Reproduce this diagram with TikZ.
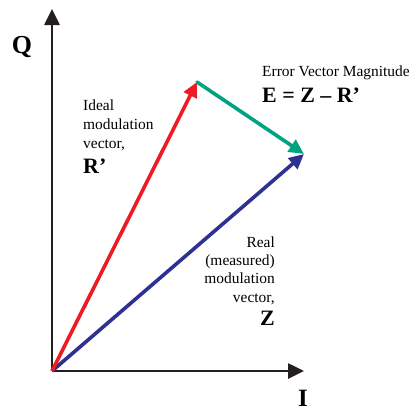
\documentclass[tikz,border=0pt]{standalone}
\usepackage{fontspec}
\setmainfont{Liberation Serif}
\usepackage{xcolor}
\usetikzlibrary{arrows.meta, positioning}

\definecolor{idealred}{RGB}{237,28,36}
\definecolor{errgreen}{RGB}{0,163,128}
\definecolor{realblue}{RGB}{46,49,146}
\definecolor{axisblack}{RGB}{35,31,32}

\tikzset{
  axis/.style={draw=axisblack, line width=2.6bp, -{Triangle[length=16bp, width=15bp]}},
  vec/.style={line width=3.6bp, -{Triangle[length=15bp, width=14bp]}},
  lbl/.style={inner sep=0pt, font=\fontsize{15.5}{18.5}\selectfont},
  big/.style={inner sep=0pt, font=\fontsize{22}{24}\selectfont\bfseries}
}

\begin{document}
\begin{tikzpicture}[x=1bp, y=-1bp]
\useasboundingbox (0,0) rectangle (415,414);
% Points
\coordinate (O) at (52,371);
\coordinate (qtip) at (52,9);
\coordinate (itip) at (304,371);
\coordinate (rtip) at (197,82);
\coordinate (ztip) at (304,154);
% Axes
\draw[axis] (O) -- (qtip);
\draw[axis] (O) -- (itip);
\node[big, font=\fontsize{26}{28}\selectfont\bfseries, anchor=base] (qlbl) at (22,53) {Q};
\node[big, font=\fontsize{25}{27}\selectfont\bfseries, anchor=base] (ilbl) at (303,406) {I};
% Vectors
\draw[vec, realblue] (O) -- (ztip);
\draw[vec, idealred] (O) -- (rtip);
\draw[vec, errgreen, line cap=round] (rtip) -- (ztip);
% Labels
\node[lbl, anchor=base west] (ideal1) at (83,110) {Ideal};
\node[lbl, anchor=base west] (ideal2) at (83,129) {modulation};
\node[lbl, anchor=base west] (ideal3) at (83,148) {vector,};
\node[big, anchor=base west] (ideal4) at (83,173) {R’};
\node[lbl, anchor=base east] (real1) at (275,247) {Real};
\node[lbl, anchor=base east] (real2) at (275,265) {(measured)};
\node[lbl, anchor=base east] (real3) at (275,283) {modulation};
\node[lbl, anchor=base east] (real4) at (275,302) {vector,};
\node[big, anchor=base east] (real5) at (275,325) {Z};
\node[lbl, anchor=base west] (evm1) at (262,76) {Error Vector Magnitude};
\node[big, anchor=base west] (evm2) at (262,102) {E = Z – R’};
\end{tikzpicture}
\end{document}
